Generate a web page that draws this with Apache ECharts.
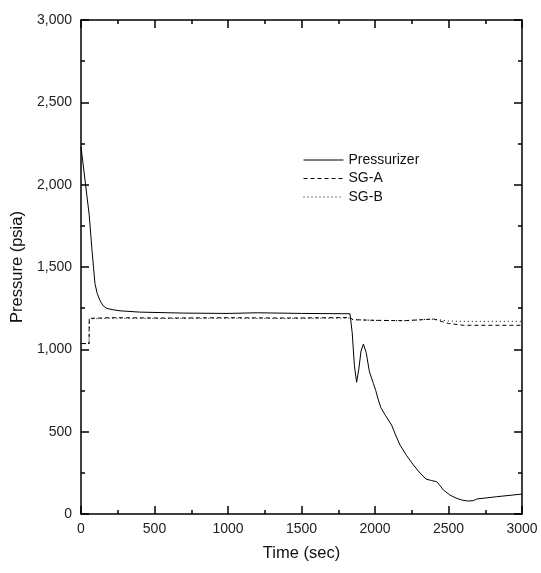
<!DOCTYPE html>
<html><head><meta charset="utf-8">
<script src="https://cdn.jsdelivr.net/npm/echarts@6/dist/echarts.min.js"></script>
<style>html,body{margin:0;padding:0;background:#fff}#c{width:541px;height:573px}</style>
</head><body><div id="c"></div>
<script>
const prTime = [0, 56, 75, 95, 110, 130, 150, 175, 220, 265, 400, 700, 1000, 1200, 1500, 1830, 1845, 1860, 1875, 1890, 1905, 1921, 1940, 1962, 1989, 2005, 2023, 2040, 2070, 2113, 2140, 2170, 2215, 2261, 2300, 2347, 2385, 2420, 2440, 2465, 2510, 2550, 2590, 2630, 2669, 2680, 2692, 2828, 3000];
const prVal  = [2230, 1815, 1600, 1400, 1340, 1295, 1265, 1249, 1240, 1234, 1226, 1220, 1218, 1222, 1218, 1216, 1100, 900, 800, 880, 990, 1032, 980, 864, 793, 750, 692, 645, 600, 540, 480, 419, 355, 298, 255, 212, 203, 196, 175, 146, 115, 97, 85, 79, 81, 88, 91, 105, 121];
const sgaTime = [0, 55, 56, 60, 200, 600, 1000, 1400, 1830, 1850, 2000, 2200, 2400, 2450, 2500, 2600, 3000];
const sgaVal  = [1035, 1035, 1188, 1190, 1192, 1190, 1192, 1190, 1193, 1180, 1176, 1174, 1184, 1170, 1157, 1146, 1146];
const sgbTime = [0, 55, 56, 60, 200, 600, 1000, 1400, 1830, 1850, 2000, 2200, 2400, 2450, 2500, 2600, 3000];
const sgbVal  = [1035, 1035, 1185, 1187, 1189, 1187, 1189, 1187, 1190, 1180, 1176, 1174, 1184, 1178, 1172, 1170, 1170];
const xTicks = [0, 500, 1000, 1500, 2000, 2500, 3000];
const yTicks = [0, 500, 1000, 1500, 2000, 2500, 3000];

const pairs = (t, v) => t.map((x, i) => [x, v[i]]);
const font = 'Liberation Sans, Arial, sans-serif';
const axCommon = {
  type: 'value', min: 0, max: 3000, interval: 500, splitNumber: 6,
  axisLine: {show: true, onZero: false, lineStyle: {color: '#000', width: 1.5}},
  axisTick: {show: true, inside: true, length: 8, lineStyle: {color: '#000', width: 1.5}},
  minorTick: {show: true, splitNumber: 2, length: 4, lineStyle: {color: '#000', width: 1.5}},
  splitLine: {show: false}
};
const chart = echarts.init(document.getElementById('c'), null, {renderer: 'canvas'});
chart.setOption({
  animation: false,
  backgroundColor: '#fff',
  grid: {left: 81, right: 19, top: 20, bottom: 59},
  legend: {
    orient: 'vertical', left: 298, top: 148, itemWidth: 40, itemHeight: 12, itemGap: 4.5,
    itemStyle: {opacity: 0},
    lineStyle: {width: 1},
    textStyle: {fontFamily: font, fontSize: 14, color: '#111'},
    data: ['Pressurizer', 'SG-A', 'SG-B']
  },
  xAxis: [
    Object.assign({}, axCommon, {
      position: 'bottom', name: 'Time (sec)', nameLocation: 'middle', nameGap: 31,
      nameTextStyle: {fontFamily: font, fontSize: 16.5, color: '#111'},
      axisLabel: {fontFamily: font, fontSize: 14, color: '#222', margin: 8, formatter: v => String(v)}
    }),
    Object.assign({}, axCommon, {position: 'top', axisLabel: {show: false}})
  ],
  yAxis: [
    Object.assign({}, axCommon, {
      position: 'left', name: 'Pressure (psia)', nameLocation: 'middle', nameGap: 55,
      nameTextStyle: {fontFamily: font, fontSize: 16.5, color: '#111'},
      axisLabel: {fontFamily: font, fontSize: 14, color: '#222', margin: 9,
        formatter: v => v.toLocaleString('en-US')}
    }),
    Object.assign({}, axCommon, {position: 'right', axisLabel: {show: false}})
  ],
  series: [
    {name: 'Pressurizer', type: 'line', symbol: 'none', data: pairs(prTime, prVal),
     lineStyle: {color: '#000', width: 1, type: 'solid'}, itemStyle: {color: '#000'}},
    {name: 'SG-A', type: 'line', symbol: 'none', data: pairs(sgaTime, sgaVal),
     lineStyle: {color: '#000', width: 1, type: [4, 3]}, itemStyle: {color: '#000'}},
    {name: 'SG-B', type: 'line', symbol: 'none', data: pairs(sgbTime, sgbVal),
     lineStyle: {color: '#000', width: 1, type: [1, 3]}, itemStyle: {color: '#000'}}
  ]
});
</script></body></html>
